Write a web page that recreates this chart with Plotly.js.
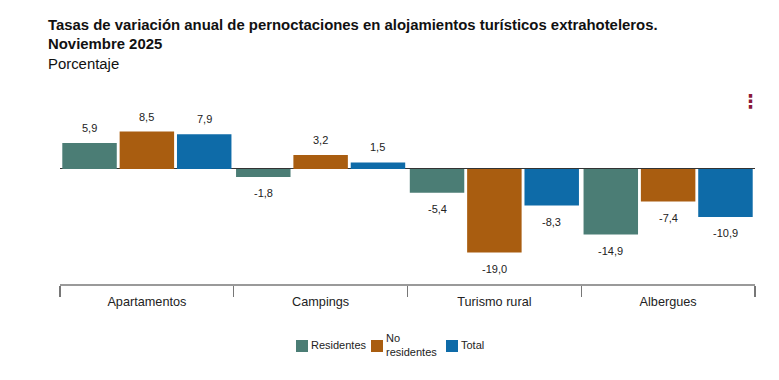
<!DOCTYPE html>
<html>
<head>
<meta charset="utf-8">
<script src="https://cdn.plot.ly/plotly-3.0.1.min.js"></script>
<style>html,body{margin:0;padding:0;background:#fff;}#chart{width:779px;height:380px;}</style>
</head>
<body>
<div id="chart"></div>
<script>
const categories = ["Apartamentos", "Campings", "Turismo rural", "Albergues"];
const seriesNames = ["Residentes", "No<br>residentes", "Total"];
const residentes = [5.9, -1.8, -5.4, -14.9];
const noResidentes = [8.5, 3.2, -19.0, -7.4];
const total = [7.9, 1.5, -8.3, -10.9];
const colors = ["#4b7d75", "#a95d10", "#0e6ba8"];

const allSeries = [residentes, noResidentes, total];
const W = 779, H = 380;
const margin = {l: 60, r: 24, t: 90, b: 96};
const bargap = 0.01, bargroupgap = 0.05;
const FONT = "Liberation Sans, Arial, sans-serif";

const traces = allSeries.map((vals, i) => ({
  type: "bar",
  name: seriesNames[i],
  x: categories,
  y: vals,
  marker: {color: colors[i]},
  hoverinfo: "skip",
  showlegend: false
}));

const plotW = W - margin.l - margin.r;
const plotH = H - margin.t - margin.b;
const px2paperX = px => (px - margin.l) / plotW;
const px2paperY = py => (H - margin.b - py) / plotH;

const slot = plotW / categories.length * (1 - bargap) / allSeries.length;
const fmt = v => v.toFixed(1).replace(".", ",");
const annotations = [];
allSeries.forEach((vals, i) => {
  vals.forEach((v, j) => {
    annotations.push({
      x: categories[j], y: v, xref: "x", yref: "y",
      text: fmt(v), showarrow: false,
      xshift: (i - 1) * slot,
      yanchor: v >= 0 ? "bottom" : "top",
      yshift: v >= 0 ? 7 : -8,
      font: {family: FONT, size: 11, color: "#222"}
    });
  });
});

// custom legend (layout positions only)
const legendSwatchX = [296, 371, 446];
const legendCenterY = 345.5;
seriesNames.forEach((name, i) => {
  annotations.push({
    xref: "paper", yref: "paper",
    x: px2paperX(legendSwatchX[i]), y: px2paperY(legendCenterY),
    xanchor: "left", yanchor: "middle",
    text: "&nbsp;", showarrow: false,
    width: 12, height: 12, bgcolor: colors[i], borderpad: 0, borderwidth: 0,
    font: {size: 6}
  });
  annotations.push({
    xref: "paper", yref: "paper",
    x: px2paperX(legendSwatchX[i] + 14), y: px2paperY(legendCenterY - 1),
    xanchor: "left", yanchor: "middle", align: "left",
    text: name, showarrow: false, borderpad: 0,
    font: {family: FONT, size: 11, color: "#222"}
  });
});

// menu icon
annotations.push({
  xref: "paper", yref: "paper", x: px2paperX(750), y: px2paperY(101),
  text: "<b>⋮</b>", showarrow: false, xanchor: "center", yanchor: "middle",
  font: {family: "DejaVu Sans", size: 19, color: "#8b1a3a"}
});

const layout = {
  width: W, height: H,
  margin: margin,
  paper_bgcolor: "#fff", plot_bgcolor: "#fff",
  font: {family: FONT, color: "#222"},
  title: {
    text: "<b>Tasas de variación anual de pernoctaciones en alojamientos turísticos extrahoteleros.<br>Noviembre 2025</b><br>Porcentaje",
    xref: "container", yref: "container",
    x: 48 / W, xanchor: "left",
    y: 1 - 30 / H, yanchor: "top",
    font: {family: FONT, size: 14.9, color: "#111"}
  },
  barmode: "group",
  bargap: bargap, bargroupgap: bargroupgap,
  showlegend: false,
  xaxis: {
    type: "category",
    showline: true, linecolor: "#9a9a9a", linewidth: 1.5,
    ticks: "outside", tickson: "boundaries", ticklen: 11, tickcolor: "#777", tickwidth: 1.2,
    ticklabelstandoff: 5,
    tickfont: {family: FONT, size: 12.7, color: "#222"},
    showgrid: false, zeroline: false, fixedrange: true
  },
  yaxis: {
    range: [-26.14, 17.95],
    showticklabels: false, showgrid: false,
    zeroline: true, zerolinecolor: "#333", zerolinewidth: 1,
    showline: false, ticks: "", fixedrange: true
  },
  annotations: annotations
};

Plotly.newPlot("chart", traces, layout, {displayModeBar: false, staticPlot: true});
</script>
</body>
</html>
